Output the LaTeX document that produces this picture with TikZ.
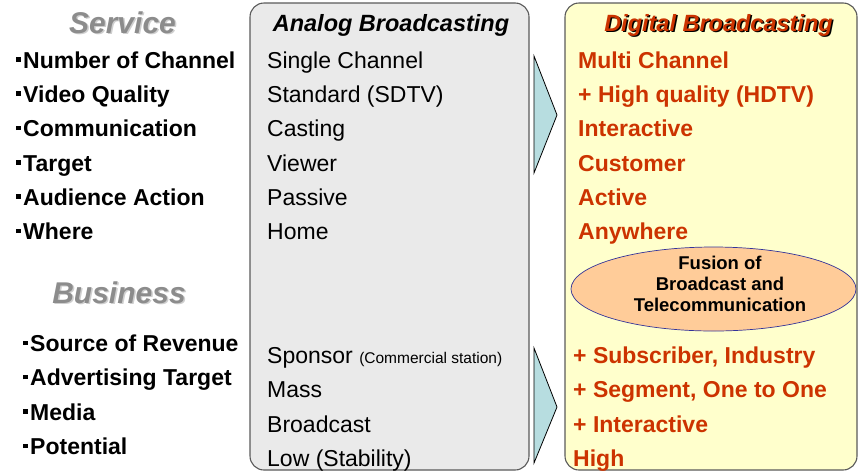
\documentclass[tikz,border=0pt]{standalone}
\usepackage{fontspec}
\setmainfont{Liberation Sans}
\usetikzlibrary{shapes.geometric}
\definecolor{analogfill}{HTML}{EAEAEA}
\definecolor{digitalfill}{HTML}{FFFFCC}
\definecolor{digitaltext}{HTML}{CC3300}
\definecolor{arrowfill}{HTML}{B7DDE0}
\definecolor{fusionfill}{HTML}{FFCC99}
\definecolor{fusionedge}{HTML}{333399}
\definecolor{boxedge}{HTML}{5A5A5A}
\definecolor{headgray}{HTML}{8C8C8C}
\definecolor{headshadow}{HTML}{CFCFCF}
\newcommand\sqbullet{\rule[6.5pt]{4.5pt}{4.5pt}\hspace{2.5pt}}
% text with a copy of itself set behind it, shifted right and down
\newcommand\shadowed[3]{\rlap{\hspace{#1}\raisebox{-#1}{\color{#2}#3}}#3}
\tikzset{
  item/.style={anchor=base west,inner sep=0pt,font=\fontsize{23}{27}\selectfont},
  bolditem/.style={item,font=\fontsize{23}{27}\selectfont\bfseries},
  digitem/.style={bolditem,text=digitaltext},
  heading/.style={anchor=base,inner sep=0pt,font=\fontsize{30}{34}\selectfont\bfseries\itshape},
  coltitle/.style={anchor=base,inner sep=0pt,font=\fontsize{23.5}{27}\selectfont\bfseries\itshape},
  panel/.style={draw=boxedge,line width=1.1pt,rounded corners=14pt},
  chevron/.style={draw=black,line width=0.8pt,fill=arrowfill,line join=miter}
}
\begin{document}
\begin{tikzpicture}[x=1pt,y=-1pt]
\useasboundingbox (0,0) rectangle (858,472);

% column panels
\draw[panel,fill=analogfill] (250,3) rectangle (529,470);
\draw[panel,fill=digitalfill] (565,3) rectangle (857,470);

% transition arrows between the columns
\draw[chevron] (534,56) -- (557,115) -- (534,173) -- cycle;
\draw[chevron] (534,348) -- (557,407) -- (534,463) -- cycle;

% section headings with a soft offset shadow
\node[heading,text=headgray] (service) at (122.5,33) {\shadowed{1.5pt}{headshadow}{Service}};
\node[heading,text=headgray] (business) at (119,303) {\shadowed{1.5pt}{headshadow}{Business}};

% column titles
\node[coltitle] (analogtitle) at (391,31) {Analog Broadcasting};
\node[coltitle,text=digitaltext] (digitaltitle) at (718.5,31) {\shadowed{1.5pt}{black}{Digital Broadcasting}};

% service criteria
\node[bolditem] (s1) at (16,68) {\sqbullet Number of Channel};
\node[bolditem] (s2) at (16,102.3) {\sqbullet Video Quality};
\node[bolditem] (s3) at (16,136.6) {\sqbullet Communication};
\node[bolditem] (s4) at (16,171) {\sqbullet Target};
\node[bolditem] (s5) at (16,205.2) {\sqbullet Audience Action};
\node[bolditem] (s6) at (16,239.5) {\sqbullet Where};

% business criteria
\node[bolditem] (b1) at (23,351.5) {\sqbullet Source of Revenue};
\node[bolditem] (b2) at (23,385.8) {\sqbullet Advertising Target};
\node[bolditem] (b3) at (23,420) {\sqbullet Media};
\node[bolditem] (b4) at (23,454.5) {\sqbullet Potential};

% analog column
\node[item] (a1) at (267,68) {Single Channel};
\node[item] (a2) at (267,102.3) {Standard (SDTV)};
\node[item] (a3) at (267,136.6) {Casting};
\node[item] (a4) at (267,171) {Viewer};
\node[item] (a5) at (267,205.2) {Passive};
\node[item] (a6) at (267,239.5) {Home};
\node[item] (a7) at (267,363.5) {Sponsor {\fontsize{15.5}{18}\selectfont (Commercial station)}};
\node[item] (a8) at (267,397.8) {Mass};
\node[item] (a9) at (267,432) {Broadcast};
\node[item] (a10) at (267,466.5) {Low (Stability)};

% digital column
\node[digitem] (d1) at (578,68) {Multi Channel};
\node[digitem] (d2) at (578,102.3) {+ High quality (HDTV)};
\node[digitem] (d3) at (578,136.6) {Interactive};
\node[digitem] (d4) at (578,171) {Customer};
\node[digitem] (d5) at (578,205.2) {Active};
\node[digitem] (d6) at (578,239.5) {Anywhere};

\node[ellipse,draw=fusionedge,line width=0.7pt,fill=fusionfill,
      minimum width=285pt,minimum height=84pt,inner sep=0pt] (fusion) at (713.5,289) {};
\node[align=center,inner sep=0pt,font=\fontsize{18.5}{21}\selectfont\bfseries] (fusiontext) at (720,284)
  {Fusion of\\Broadcast and\\Telecommunication};

\node[digitem] (d7) at (573,363.5) {+ Subscriber, Industry};
\node[digitem] (d8) at (573,397.8) {+ Segment, One to One};
\node[digitem] (d9) at (573,432) {+ Interactive};
\node[digitem] (d10) at (573,466.5) {High};
\end{tikzpicture}
\end{document}
